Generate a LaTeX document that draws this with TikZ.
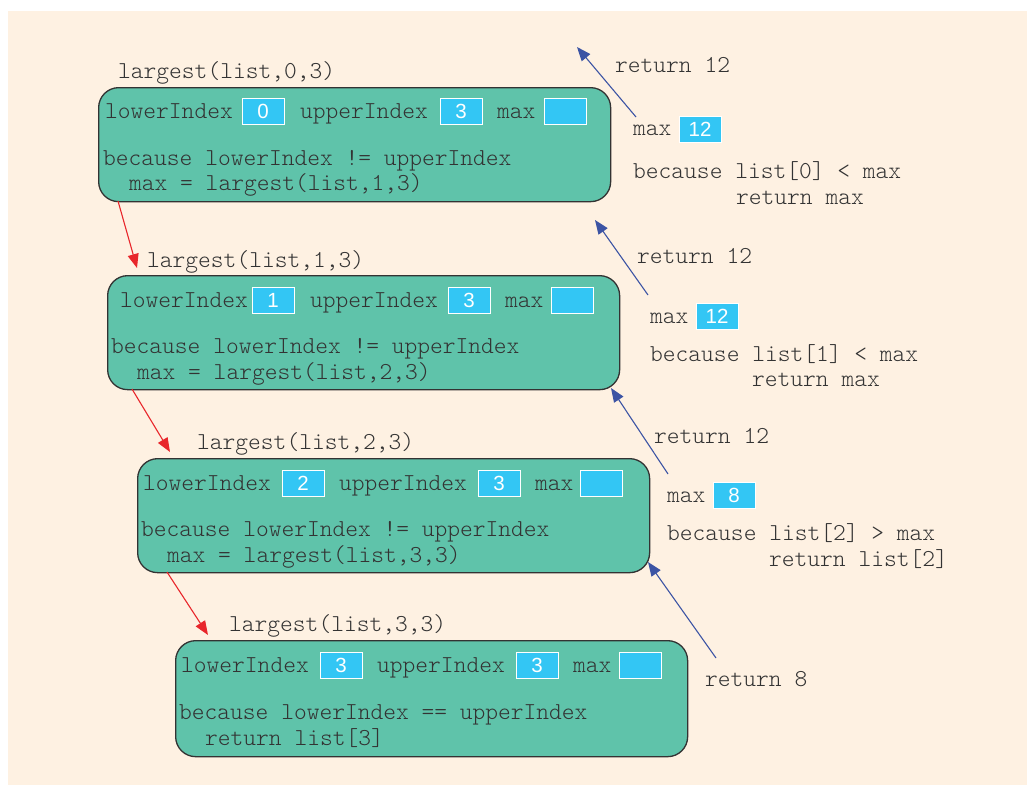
\documentclass[tikz,border=0pt]{standalone}
\usepackage{fontspec}
\setmonofont{Latin Modern Mono Light}
\newfontfamily\valfont{Liberation Sans}
\usetikzlibrary{arrows.meta}
\definecolor{bgcream}{HTML}{FEF1E2}
\definecolor{boxteal}{HTML}{5FC3AA}
\definecolor{cyanbox}{HTML}{33C6F4}
\definecolor{txtgray}{HTML}{333333}
\definecolor{redarr}{HTML}{E8262B}
\definecolor{bluearr}{HTML}{3C54A4}
\begin{document}
\begin{tikzpicture}[x=1pt,y=-1pt,
  frame/.style={draw=black!80, line width=1.3pt, fill=boxteal, rounded corners=20pt,
    inner sep=0pt, anchor=north west, minimum width=512pt},
  code/.style={anchor=base west, inner sep=0pt, text=txtgray,
    font=\ttfamily\fontsize{24.3}{28}\selectfont},
  val/.style={fill=cyanbox, draw=white, line width=1pt, minimum width=42pt,
    minimum height=26pt, inner sep=0pt, text=white,
    font=\valfont\fontsize{20.5}{22}\selectfont},
  redarrow/.style={draw=redarr, line width=1.1pt, -{Triangle[length=14pt,width=11pt]}},
  bluearrow/.style={draw=bluearr, line width=1.1pt, -{Triangle[length=14pt,width=11pt]}}
]
\useasboundingbox (0,0) rectangle (1027,785);
\fill[bgcream] (8,11) rectangle (1027,785);

% ---- frame 1
\node[frame, minimum height=114pt] (f1) at (98,87) {};
\node[code] (t1) at (118,78) {largest(list,0,3)};
\node[code] (l1) at (105,118) {lowerIndex};
\node[val] (lv1) at (263,111) {0};
\node[code] (u1) at (300,118) {upperIndex};
\node[val] (uv1) at (461,111) {3};
\node[code] (m1) at (497,118) {max};
\node[val] (mv1) at (565,111) {};
\node[code] (b1) at (103,165) {because lowerIndex != upperIndex};
\node[code] (c1) at (129,190) {max = largest(list,1,3)};

% ---- frame 2
\node[frame, minimum height=114pt] (f2) at (107,275) {};
\node[code] (t2) at (147,267) {largest(list,1,3)};
\node[code] (l2) at (120,307) {lowerIndex};
\node[val] (lv2) at (273,300) {1};
\node[code] (u2) at (310,307) {upperIndex};
\node[val] (uv2) at (469,300) {3};
\node[code] (m2) at (505,307) {max};
\node[val] (mv2) at (572,300) {};
\node[code] (b2) at (111,353) {because lowerIndex != upperIndex};
\node[code] (c2) at (137,379) {max = largest(list,2,3)};

% ---- frame 3
\node[frame, minimum height=114pt] (f3) at (137,458) {};
\node[code] (t3) at (197,449) {largest(list,2,3)};
\node[code] (l3) at (143,490) {lowerIndex};
\node[val] (lv3) at (303,483) {2};
\node[code] (u3) at (339,490) {upperIndex};
\node[val] (uv3) at (499,483) {3};
\node[code] (m3) at (535,490) {max};
\node[val] (mv3) at (601,483) {};
\node[code] (b3) at (141,536) {because lowerIndex != upperIndex};
\node[code] (c3) at (167,562) {max = largest(list,3,3)};

% ---- frame 4
\node[frame, minimum height=116pt] (f4) at (175,640) {};
\node[code] (t4) at (229,631) {largest(list,3,3)};
\node[code] (l4) at (181,672) {lowerIndex};
\node[val] (lv4) at (341,665) {3};
\node[code] (u4) at (377,672) {upperIndex};
\node[val] (uv4) at (537,665) {3};
\node[code] (m4) at (573,672) {max};
\node[val] (mv4) at (640,665) {};
\node[code] (b4) at (179,719) {because lowerIndex == upperIndex};
\node[code] (c4) at (205,745) {return list[3]};

% ---- return annotations
\node[code] (r1) at (615,72) {return 12};
\node[code] (rm1) at (633,135) {max};
\node[val] (rv1) at (700,129) {12};
\node[code] (rb1) at (633,178) {because list[0] < max};
\node[code] (rr1) at (736,204) {return max};

\node[code] (r2) at (637,263) {return 12};
\node[code] (rm2) at (650,323) {max};
\node[val] (rv2) at (717,316) {12};
\node[code] (rb2) at (650,361) {because list[1] < max};
\node[code] (rr2) at (752,386) {return max};

\node[code] (r3) at (654,443) {return 12};
\node[code] (rm3) at (667,502) {max};
\node[val] (rv3) at (734,495) {8};
\node[code] (rb3) at (667,540) {because list[2] > max};
\node[code] (rr3) at (769,566) {return list[2]};

\node[code] (r4) at (705,686) {return 8};

% ---- connector end points
\coordinate (a1s) at (118,201);
\coordinate (a1e) at (137,268);
\coordinate (a2s) at (132,389);
\coordinate (a2e) at (170,452);
\coordinate (a3s) at (167,572);
\coordinate (a3e) at (208,635);

\coordinate (b1s) at (636,117);
\coordinate (b1e) at (577,47);
\coordinate (b2s) at (648,295);
\coordinate (b2e) at (595,220);
\coordinate (b3s) at (668,474);
\coordinate (b3e) at (611,388);
\coordinate (b4s) at (716,658);
\coordinate (b4e) at (648,562);

\draw[redarrow] (a1s) -- (a1e);
\draw[redarrow] (a2s) -- (a2e);
\draw[redarrow] (a3s) -- (a3e);

\draw[bluearrow] (b1s) -- (b1e);
\draw[bluearrow] (b2s) -- (b2e);
\draw[bluearrow] (b3s) -- (b3e);
\draw[bluearrow] (b4s) -- (b4e);
\end{tikzpicture}
\end{document}
